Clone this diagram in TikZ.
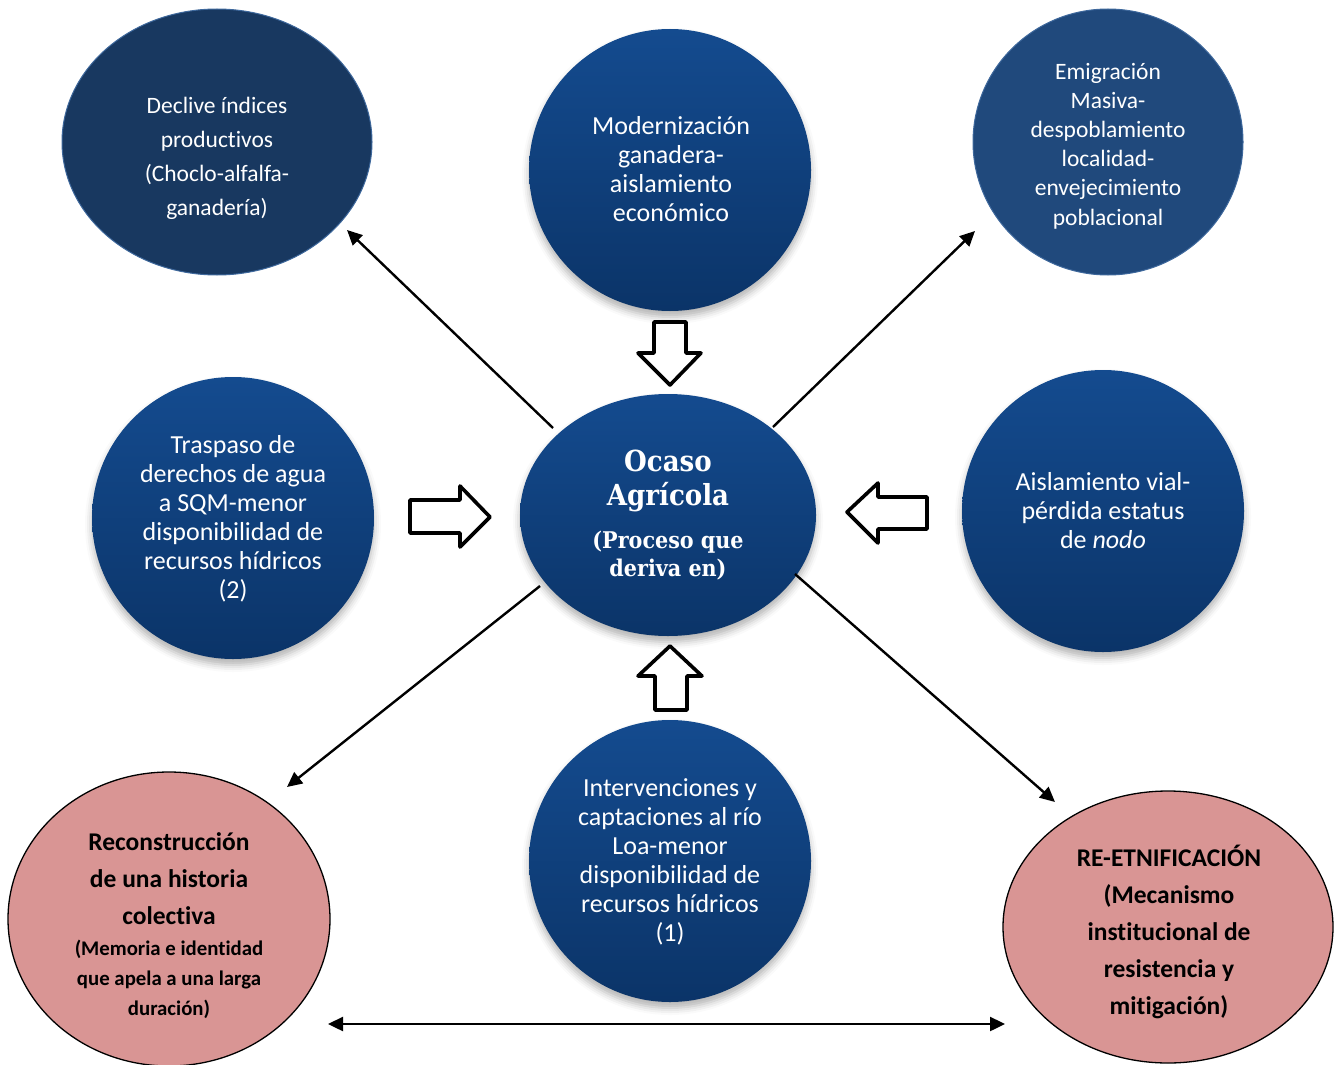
\documentclass[tikz,border=0pt]{standalone}
\usepackage{fontspec}
\setmainfont{Carlito}[Ligatures=NoCommon]
\newfontfamily\titlefont{DejaVu Serif Condensed}
\usetikzlibrary{shapes.geometric,arrows.meta,shadows.blur}
\definecolor{bluetop}{RGB}{20,75,143}
\definecolor{bluebot}{RGB}{11,52,104}
\definecolor{darknavy}{RGB}{24,56,96}
\definecolor{midnavy}{RGB}{32,73,124}
\definecolor{navyedge}{RGB}{62,104,156}
\definecolor{pinkfill}{RGB}{217,149,148}
\begin{document}
\begin{tikzpicture}[x=1pt,y=-1pt,
  oval/.style={ellipse, inner sep=0pt},
  gradoval/.style={oval, top color=bluetop, bottom color=bluebot, draw=none,
    blur shadow={shadow xshift=0pt, shadow yshift=-6pt, shadow blur radius=7pt, shadow opacity=30}},
  flatoval/.style={oval, fill=#1, draw=navyedge, line width=1pt},
  pinkoval/.style={oval, fill=pinkfill, draw=black, line width=1.3pt},
  wtxt/.style={text=white, align=center, inner sep=0pt, font=\fontsize{26}{29}\selectfont},
  ptxt/.style={text=black, align=center, inner sep=0pt, font=\bfseries\fontsize{25.5}{37}\selectfont},
  psmall/.style={text=black, align=center, inner sep=0pt, font=\bfseries\fontsize{20.8}{30}\selectfont},
  thinarrow/.style={line width=2.4pt, -{Triangle[length=15pt,width=14pt]}},
  blockarrow/.style={draw=black, fill=white, line width=3.6pt, line join=round}
]
\useasboundingbox (0,0) rectangle (1336,1065);

% ellipses
\node[flatoval=darknavy, minimum width=310pt, minimum height=266pt] (tl) at (217,142) {};
\node[gradoval, minimum width=282pt, minimum height=282pt] (tc) at (670,170) {};
\node[flatoval=midnavy, minimum width=270pt, minimum height=266pt] (tr) at (1108,142) {};
\node[gradoval, minimum width=282pt, minimum height=282pt] (lm) at (233,518) {};
\node[gradoval, minimum width=282pt, minimum height=282pt] (rm) at (1103,511) {};
\node[gradoval, minimum width=296pt, minimum height=242pt] (ctr) at (668,515) {};
\node[gradoval, minimum width=282pt, minimum height=282pt] (bc) at (670,861) {};
\node[pinkoval, minimum width=322pt, minimum height=294pt] (pl) at (169,919) {};
\node[pinkoval, minimum width=330pt, minimum height=272pt] (pr) at (1168,927) {};

% texts
\node[wtxt, font=\fontsize{23.5}{34}\selectfont] (tltxt) at (217,158) {Declive índices\\productivos\\(Choclo-alfalfa-\\ganadería)};
\node[wtxt] (tctxt) at (671,169) {Modernización\\ganadera-\\aislamiento\\económico};
\node[wtxt, font=\fontsize{23.5}{29.2}\selectfont] (trtxt) at (1108,146) {Emigración\\Masiva-\\despoblamiento\\localidad-\\envejecimiento\\poblacional};
\node[wtxt] (lmtxt) at (233,519) {Traspaso de\\derechos de agua\\a SQM-menor\\disponibilidad de\\recursos hídricos\\(2)};
\node[wtxt] (rmtxt) at (1103,511) {Aislamiento vial-\\pérdida estatus\\de \textit{nodo}};
\node[wtxt] (bctxt) at (670,862) {Intervenciones y\\captaciones al río\\Loa-menor\\disponibilidad de\\recursos hídricos\\(1)};
\node[text=white, align=center, inner sep=0pt, font=\titlefont\bfseries\fontsize{29}{34}\selectfont] (ctitle) at (668,481) {Ocaso\\Agrícola};
\node[text=white, align=center, inner sep=0pt, font=\titlefont\bfseries\fontsize{23}{28}\selectfont] (csub) at (668,556) {(Proceso que\\deriva en)};
\node[ptxt] (pltxt) at (169,879) {Reconstrucción\\de una historia\\colectiva};
\node[psmall] (plsmall) at (169,979) {(Memoria e identidad\\que apela a una larga\\duración)};
\node[ptxt] (prtxt) at (1169,932) {RE-ETNIFICACIÓN\\(Mecanismo\\institucional de\\resistencia y\\mitigación)};

% thin arrows
\coordinate (a1s) at (553,428); \coordinate (a1e) at (347,230);
\coordinate (a2s) at (773,427); \coordinate (a2e) at (975,231);
\coordinate (a3s) at (540,586); \coordinate (a3e) at (287,787);
\coordinate (a4s) at (795,574); \coordinate (a4e) at (1055,802);
\coordinate (a5s) at (328,1024); \coordinate (a5e) at (1005,1024);
\draw[thinarrow] (a1s) -- (a1e);
\draw[thinarrow] (a2s) -- (a2e);
\draw[thinarrow] (a3s) -- (a3e);
\draw[thinarrow] (a4s) -- (a4e);
\draw[line width=2.4pt, {Triangle[length=15pt,width=14pt]}-{Triangle[length=15pt,width=14pt]}] (a5s) -- (a5e);

% block arrows
\draw[blockarrow] (654,322) -- (686,322) -- (686,353) -- (701,353) -- (670,385) -- (638,353) -- (654,353) -- cycle;
\draw[blockarrow] (670,646) -- (702,676) -- (687,676) -- (687,710) -- (655,710) -- (655,676) -- (638,676) -- cycle;
\draw[blockarrow] (410,500) -- (460,500) -- (460,486) -- (490,517) -- (460,547) -- (460,533) -- (410,533) -- cycle;
\draw[blockarrow] (847,512) -- (878,483) -- (878,497) -- (927,497) -- (927,529) -- (878,529) -- (878,543) -- cycle;
\end{tikzpicture}
\end{document}
